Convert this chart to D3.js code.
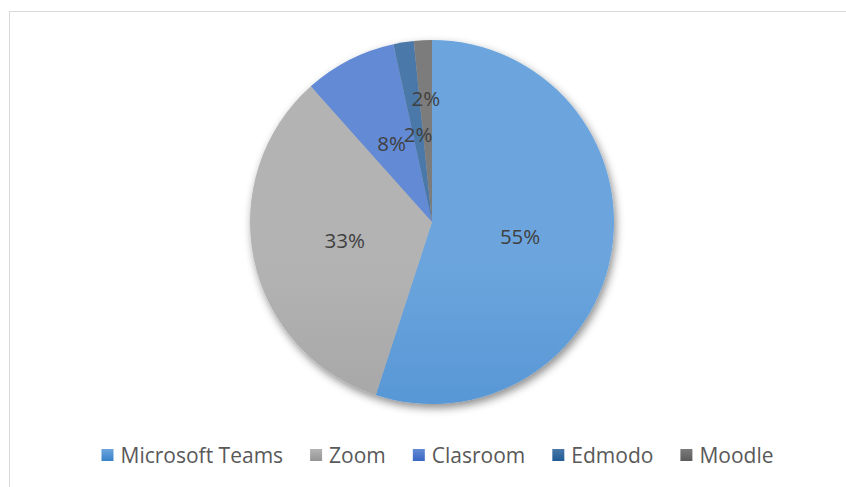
<!DOCTYPE html>
<html>
<head>
<meta charset="utf-8">
<script src="https://cdn.jsdelivr.net/npm/d3@7"></script>
<style>
  body { margin: 0; background: #fff; }
  svg { display: block; font-family: "Open Sans", sans-serif; }
</style>
</head>
<body>
<div class="canvas"></div>
<script>
// data
const platforms = ['Microsoft Teams', 'Zoom', 'Clasroom', 'Edmodo', 'Moodle'];
const shares = [55.0, 33.4, 8.2, 1.8, 1.6];
const topColors = ['#6ca5dd', '#b3b3b3', '#648ad4', '#4a78a9', '#7b7b7b'];
const bottomColors = ['#3882ca', '#959595', '#3a66c4', '#205b94', '#5b5b5b'];

const width = 846;
const height = 487;

const svg = d3.select('.canvas')
  .append('svg')
  .attr('width', width)
  .attr('height', height);

// chart frame, runs off the right and bottom
svg.append('rect')
  .attr('x', 9.5)
  .attr('y', 11.5)
  .attr('width', 900)
  .attr('height', 500)
  .attr('fill', 'none')
  .attr('stroke', '#d9d9d9');

const cx = 432;
const cy = 222;
const radius = 182;

const defs = svg.append('defs');

// soft shadow under the pie
const shadow = defs.append('filter')
  .attr('id', 'shadow')
  .attr('x', '-20%').attr('y', '-20%')
  .attr('width', '140%').attr('height', '140%');
shadow.append('feDropShadow')
  .attr('dx', 2)
  .attr('dy', 4)
  .attr('stdDeviation', 4)
  .attr('flood-color', '#000')
  .attr('flood-opacity', 0.45);

// gradients for slices (span whole pie) and legend keys
platforms.forEach((p, i) => {
  const g = defs.append('linearGradient')
    .attr('id', 'grad' + i)
    .attr('gradientUnits', 'userSpaceOnUse')
    .attr('x1', 0).attr('x2', 0)
    .attr('y1', cy - radius).attr('y2', cy + radius);
  g.append('stop').attr('offset', '0%').attr('stop-color', topColors[i]);
  g.append('stop').attr('offset', '100%').attr('stop-color', bottomColors[i]);

  const k = defs.append('linearGradient')
    .attr('id', 'key' + i)
    .attr('x1', 0).attr('x2', 0)
    .attr('y1', 0).attr('y2', 1);
  k.append('stop').attr('offset', '0%').attr('stop-color', topColors[i]);
  k.append('stop').attr('offset', '100%').attr('stop-color', bottomColors[i]);
});

const pie = d3.pie().sort(null).value(d => d);
const arcs = pie(shares);
const arc = d3.arc().innerRadius(0).outerRadius(radius);

const graph = svg.append('g')
  .attr('transform', `translate(${cx}, ${cy})`);

graph.append('g')
  .attr('filter', 'url(#shadow)')
  .selectAll('path')
  .data(arcs)
  .enter()
  .append('path')
  .attr('d', arc)
  .attr('fill', (d, i) => `url(#grad${i})`);

// labels at about half radius, pushed out when they crowd the previous one
const total = d3.sum(shares);
let prev = null;
arcs.forEach((d, i) => {
  const mid = (d.startAngle + d.endAngle) / 2;
  let r = radius * 0.49;
  let pos = [Math.sin(mid) * r, -Math.cos(mid) * r];
  if (prev && Math.hypot(pos[0] - prev[0], pos[1] - prev[1]) < 24) {
    r = radius * 0.68;
    pos = [Math.sin(mid) * r, -Math.cos(mid) * r];
  }
  prev = pos;
  graph.append('text')
    .attr('x', pos[0])
    .attr('y', pos[1])
    .attr('text-anchor', 'middle')
    .attr('dominant-baseline', 'central')
    .attr('font-size', 20.5)
    .attr('fill', '#404040')
    .text(Math.round(shares[i] / total * 100) + '%');
});

// legend
const legend = svg.append('g');

const items = legend.selectAll('g')
  .data(platforms)
  .enter()
  .append('g');

items.append('rect')
  .attr('width', 12)
  .attr('height', 12)
  .attr('y', -6)
  .attr('fill', (d, i) => `url(#key${i})`);

items.append('text')
  .attr('x', 19)
  .attr('dominant-baseline', 'central')
  .attr('font-size', 21)
  .attr('fill', '#595959')
  .text(d => d);

let x = 0;
const gap = 27;
items.each(function() {
  const w = 19 + d3.select(this).select('text').node().getComputedTextLength();
  d3.select(this).attr('transform', `translate(${x}, 0)`);
  x += w + gap;
});
const legendWidth = x - gap;
legend.attr('transform', `translate(${437.5 - legendWidth / 2}, 455)`);
</script>
</body>
</html>
